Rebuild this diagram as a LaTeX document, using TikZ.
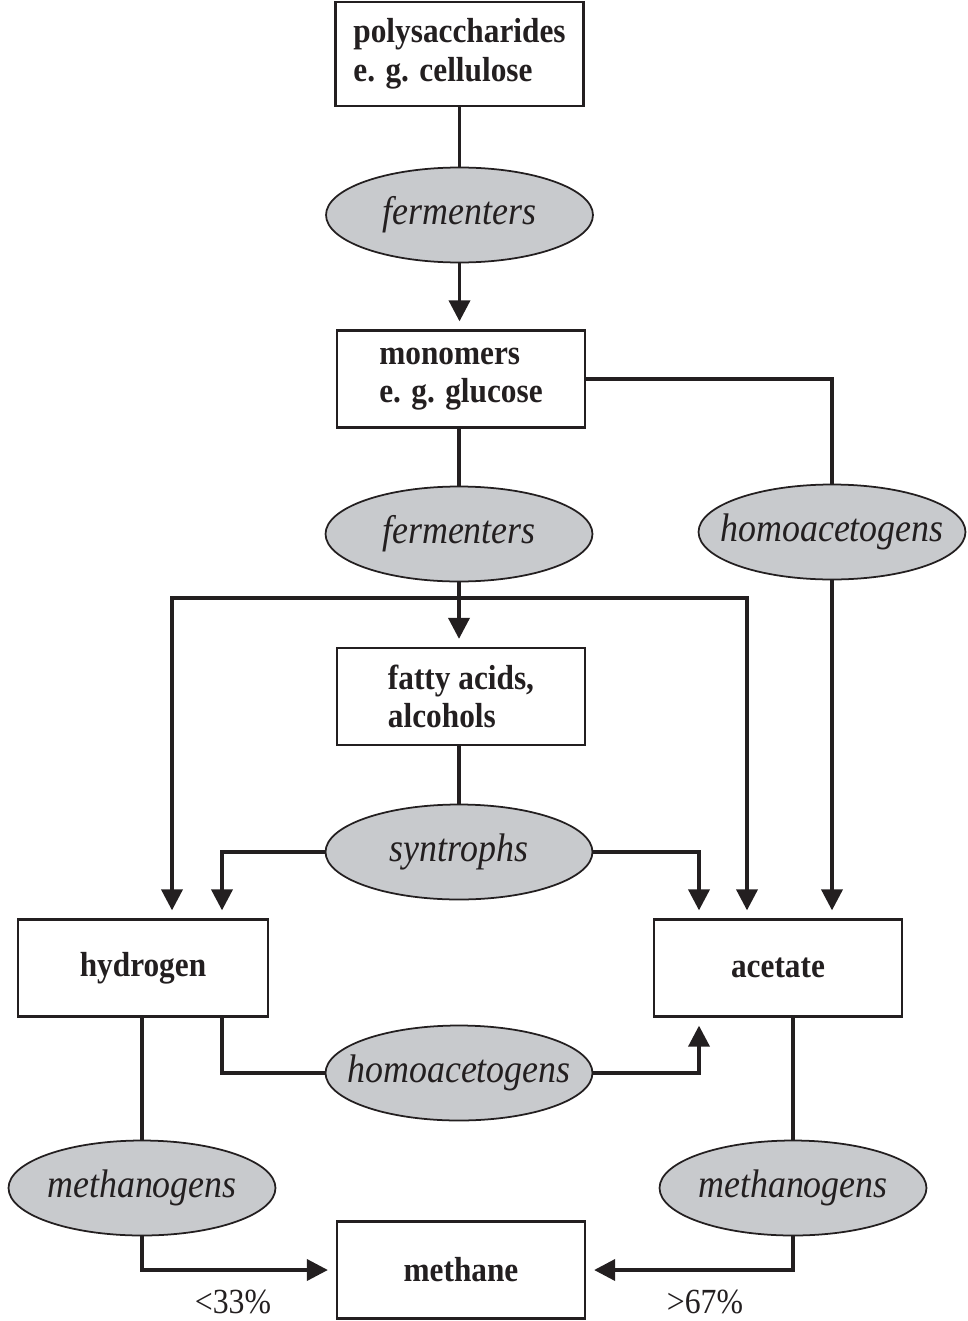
\documentclass[tikz,border=0pt]{standalone}
\usepackage{fontspec}
\setmainfont{Liberation Serif}[FakeStretch=0.9]
\usetikzlibrary{shapes.geometric,calc,arrows.meta}
\definecolor{colorInk}{RGB}{35,31,32}
\definecolor{colorMicrobe}{RGB}{200,202,205}
\tikzset{
   every path/.style={>={Triangle[length=0.42cm,width=0.42cm]}},
   substrate/.style={rectangle,draw=colorInk,line width=1.3pt,minimum width=4.96cm,minimum height=1.94cm,align=left,text=colorInk,font=\fontsize{19.8}{22}\selectfont\bfseries},
   microbe/.style={ellipse,draw=colorInk,line width=1pt,fill=colorMicrobe,minimum width=5.34cm,minimum height=1.9cm,inner xsep=-0.4cm,inner ysep=0pt,text=colorInk,font=\fontsize{22.7}{26}\selectfont\itshape},
   link/.style={-,color=colorInk,line width=2.1pt},
   flow/.style={->,color=colorInk,line width=2.1pt,shorten >=0.16cm},
   share/.style={inner sep=0pt,text=colorInk,font=\fontsize{20.1}{24}\selectfont},
}

\begin{document}
\begin{tikzpicture}[x=0.02cm, y=-0.02cm]
    \useasboundingbox (0,0) rectangle (967,1321);

    \node[substrate,minimum height=2.08cm] (poly) at (459.5,54) {polysaccharides\\e. g. cellulose};
    \node[microbe] (fermA) at (459.5,215) {fermenters};
    \node[substrate] (mono) at (461,379) {monomers\\e. g. glucose};
    \node[microbe] (fermB) at (459,534) {fermenters};
    \node[microbe] (homoA) at (832,532) {homoacetogens};
    \node[substrate] (fatty) at (461,696.5) {fatty acids,\\alcohols};
    \node[microbe] (syn) at (459,852) {syntrophs};

    \node[substrate,minimum width=5cm] (hyd) at (143,968) {hydrogen};
    \node[substrate] (acet) at (778,968) {acetate};
    \node[microbe] (homoB) at (459,1073) {homoacetogens};
    \node[microbe] (methA) at (142,1188) {methanogens};
    \node[microbe] (methB) at (793,1188) {methanogens};
    \node[substrate] (methane) at (461,1270) {methane};

    \node[share] (lowshare) at (233,1302) {<33\%};
    \node[share] (highshare) at (705,1302) {>67\%};

    \draw[link] (poly) -- (fermA);
    \draw[flow] (fermA.south) -- (fermA.south |- mono.north);

    \draw[link] (mono.east) -| (homoA.north);
    \draw[flow] (homoA.south) -- (homoA.south |- acet.north);

    \draw[link] (fermB.north |- mono.south) -- (fermB.north);
    \coordinate (split) at ($(fermB.south)+(0,15.5)$);
    \draw[link] (fermB.south) -- (split);
    \draw[flow] (split) -| ($(hyd.north)+(29,0)$);
    \draw[flow] (split) -| ($(acet.north)+(-31,0)$);
    \draw[flow] (split) -- (split |- fatty.north);

    \draw[link] (syn.north |- fatty.south) -- (syn.north);
    \draw[flow] (syn.west) -| ($(hyd.north)+(79,0)$);
    \draw[flow] (syn.east) -| ($(acet.north)+(-79,0)$);

    \draw[link] ($(hyd.south)+(79,0)$) |- (homoB.west);
    \draw[flow] (homoB.east) -| ($(acet.south)+(-79,0)$);

    \draw[link] (methA.north |- hyd.south) -- (methA.north);
    \draw[link] (methB.north |- acet.south) -- (methB.north);
    \draw[flow] (methA.south) |- (methane.west);
    \draw[flow] (methB.south) |- (methane.east);

\end{tikzpicture}
\end{document}
